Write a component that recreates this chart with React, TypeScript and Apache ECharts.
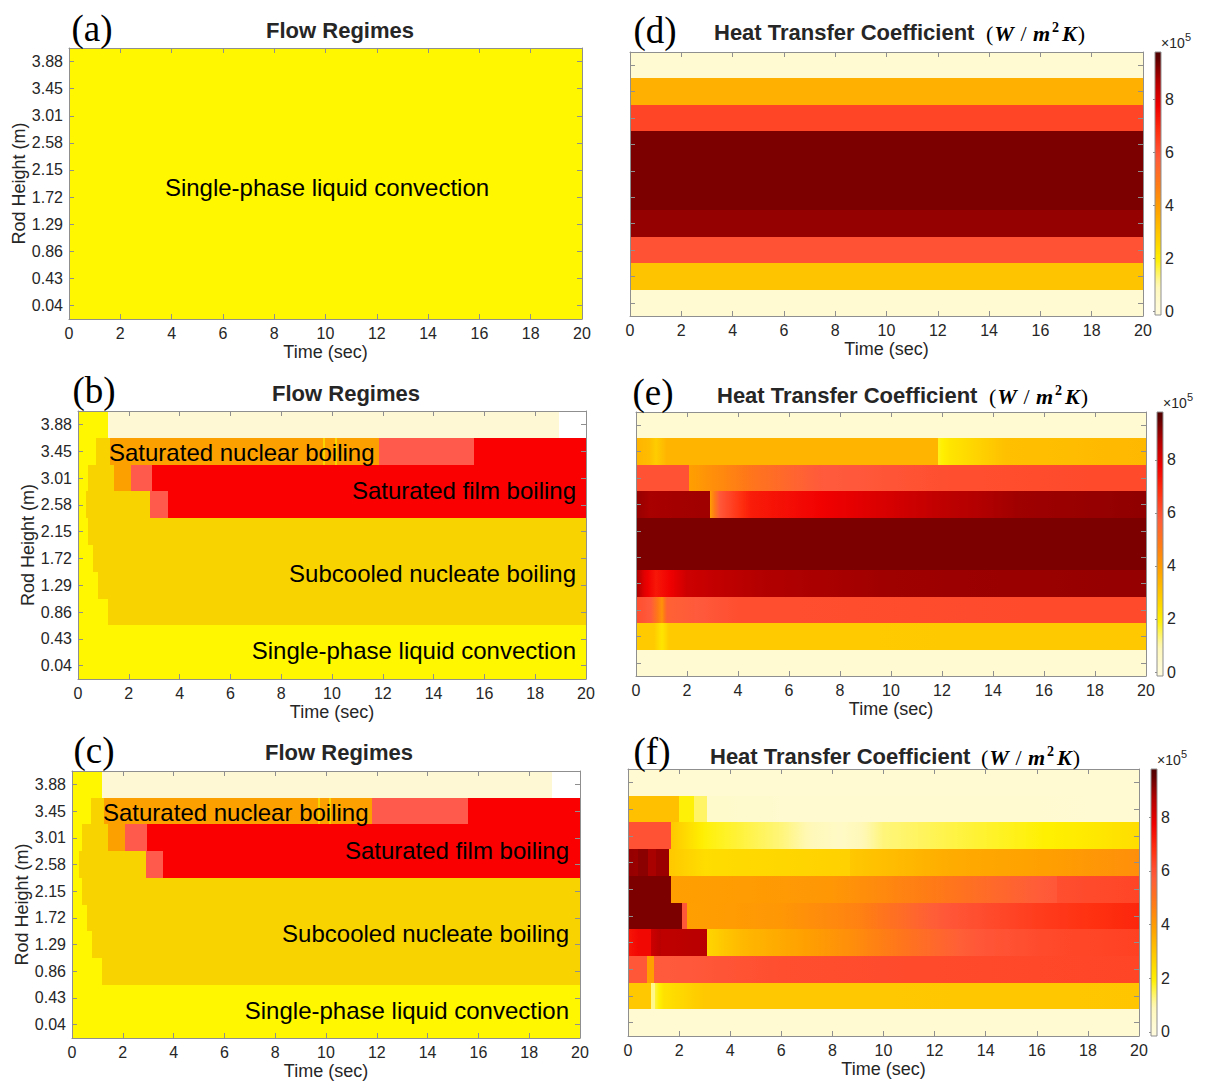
import React, { useEffect, useRef } from 'react';
import * as echarts from 'echarts';

// ---------------- DATA ----------------
const heightLabels = ['0.04', '0.43', '0.86', '1.29', '1.72', '2.15', '2.58', '3.01', '3.45', '3.88'];
const timeMin = 0;
const timeMax = 20;
const timeInterval = 2;

// Regime ids: 0 single-phase liquid, 1 subcooled nucleate, 2 saturated nucleate,
// 3 transition, 4 saturated film, 5 vapour/cream, 6 none
const regimeLabels = [
  'Single-phase liquid convection',
  'Subcooled nucleate boiling',
  'Saturated nuclear boiling',
  'Transition boiling',
  'Saturated film boiling',
];

// rows bottom (0.04) -> top (3.88); segments [tStart, tEnd, regimeId]
const regimesA = [
  [[0, 20, 0]], [[0, 20, 0]], [[0, 20, 0]], [[0, 20, 0]], [[0, 20, 0]],
  [[0, 20, 0]], [[0, 20, 0]], [[0, 20, 0]], [[0, 20, 0]], [[0, 20, 0]],
];
const regimesB = [
  [[0, 20, 0]],
  [[0, 20, 0]],
  [[0, 1.2, 0], [1.2, 20, 1]],
  [[0, 0.78, 0], [0.78, 20, 1]],
  [[0, 0.6, 0], [0.6, 20, 1]],
  [[0, 0.39, 0], [0.39, 20, 1]],
  [[0, 0.3, 0], [0.3, 2.84, 1], [2.84, 3.55, 3], [3.55, 20, 4]],
  [[0, 0.39, 0], [0.39, 1.4, 1], [1.4, 2.07, 2], [2.07, 2.92, 3], [2.92, 20, 4]],
  [[0, 0.71, 0], [0.71, 1.27, 1], [1.27, 9.66, 2], [9.66, 9.74, 1], [9.74, 10.13, 2], [10.13, 10.21, 1], [10.21, 11.84, 2], [11.84, 15.6, 3], [15.6, 20, 4]],
  [[0, 1.18, 0], [1.18, 18.95, 5], [18.95, 20, 6]],
];
const regimesC = [
  [[0, 20, 0]],
  [[0, 20, 0]],
  [[0, 1.19, 0], [1.19, 20, 1]],
  [[0, 0.78, 0], [0.78, 20, 1]],
  [[0, 0.59, 0], [0.59, 20, 1]],
  [[0, 0.38, 0], [0.38, 20, 1]],
  [[0, 0.28, 0], [0.28, 2.9, 1], [2.9, 3.6, 3], [3.6, 20, 4]],
  [[0, 0.38, 0], [0.38, 1.42, 1], [1.42, 2.08, 2], [2.08, 2.96, 3], [2.96, 20, 4]],
  [[0, 0.73, 0], [0.73, 1.26, 1], [1.26, 9.68, 2], [9.68, 9.76, 1], [9.76, 10.12, 2], [10.12, 10.2, 1], [10.2, 11.8, 2], [11.8, 15.6, 3], [15.6, 20, 4]],
  [[0, 1.19, 0], [1.19, 18.9, 5], [18.9, 20, 6]],
];

// HTC (x1e5 W/m2K); segments [tStart, tEnd, valueStart, valueEnd]
const htcD = [
  [[0, 20, 0.3, 0.3]],
  [[0, 20, 3.0, 3.0]],
  [[0, 20, 6.0, 6.0]],
  [[0, 20, 9.0, 9.0]],
  [[0, 20, 9.25, 9.25]],
  [[0, 20, 9.25, 9.25]],
  [[0, 20, 9.25, 9.25]],
  [[0, 20, 6.3, 6.3]],
  [[0, 20, 3.5, 3.5]],
  [[0, 20, 0.3, 0.3]],
];
const htcE = [
  [[0, 20, 0.3, 0.3]],
  [[0, 0.7, 2.85, 2.85], [0.7, 1.0, 2.85, 2.2], [1.0, 1.3, 2.2, 2.85], [1.3, 20, 2.85, 2.9]],
  [[0, 0.6, 6.1, 5.8], [0.6, 1.0, 5.8, 4.2], [1.0, 1.2, 4.2, 5.6], [1.2, 4, 5.6, 6.1], [4, 20, 6.1, 6.2]],
  [[0, 0.3, 8.9, 8.0], [0.3, 0.8, 8.0, 7.3], [0.8, 2, 7.3, 8.3], [2, 5, 8.3, 8.7], [5, 10, 8.7, 8.9], [10, 20, 8.9, 9.0]],
  [[0, 20, 9.25, 9.25]],
  [[0, 20, 9.25, 9.25]],
  [[0, 0.5, 9.0, 8.8], [0.5, 2.9, 8.8, 8.9], [2.9, 3.3, 3.9, 5.9], [3.3, 4.5, 5.9, 7.2], [4.5, 6.5, 7.2, 7.6], [6.5, 9, 7.6, 8.0], [9, 12, 8.0, 8.5], [12, 15, 8.5, 8.9], [15, 20, 8.9, 9.05]],
  [[0, 2.08, 6.0, 6.0], [2.08, 4.7, 3.9, 5.0], [4.7, 7.2, 5.0, 5.8], [7.2, 9.3, 5.8, 5.9], [9.3, 12.4, 5.9, 6.1], [12.4, 20, 6.1, 6.2]],
  [[0, 0.5, 3.4, 3.2], [0.5, 0.8, 3.2, 2.8], [0.8, 1.2, 2.8, 3.4], [1.2, 11.85, 3.4, 3.4], [11.85, 12.3, 1.8, 2.2], [12.3, 14.5, 2.2, 3.1], [14.5, 20, 3.1, 3.3]],
  [[0, 20, 0.3, 0.3]],
];
const htcF = [
  [[0, 20, 0.3, 0.3]],
  [[0, 0.9, 2.9, 2.9], [0.9, 1.05, 1.2, 1.2], [1.05, 1.4, 1.6, 2.3], [1.4, 3, 2.3, 2.9], [3, 20, 2.9, 2.95]],
  [[0, 0.75, 5.9, 5.9], [0.75, 1.0, 3.9, 3.9], [1.0, 3, 5.8, 5.9], [3, 6, 5.9, 6.1], [6, 20, 6.1, 6.3]],
  [[0, 0.4, 7.3, 7.6], [0.4, 0.9, 7.6, 7.6], [0.9, 1.3, 8.3, 8.6], [1.3, 3.1, 8.5, 8.6], [3.1, 4.5, 2.6, 3.3], [4.5, 7, 3.3, 3.9], [7, 8.7, 3.9, 4.3], [8.7, 13.7, 4.3, 5.9], [13.7, 16.4, 5.9, 6.2], [16.4, 20, 6.2, 6.4]],
  [[0, 2.1, 9.25, 9.25], [2.1, 2.3, 5.9, 5.9], [2.3, 6, 3.9, 4.1], [6, 9, 4.1, 4.6], [9, 12.5, 4.6, 5.9], [12.5, 16, 5.9, 6.5], [16, 20, 6.5, 7.0]],
  [[0, 1.7, 9.25, 9.25], [1.7, 8, 3.9, 4.1], [8, 12, 4.1, 4.8], [12, 16.8, 4.8, 5.9], [16.8, 20, 6.1, 6.3]],
  [[0, 0.4, 9.0, 8.95], [0.4, 0.8, 9.1, 9.1], [0.8, 1.1, 8.8, 8.8], [1.1, 1.62, 8.95, 8.95], [1.62, 3, 2.9, 2.4], [3, 8.7, 2.4, 2.7], [8.7, 12.6, 2.9, 3.6], [12.6, 16.4, 3.6, 3.9], [16.4, 20, 3.9, 4.3]],
  [[0, 1.7, 6.0, 6.0], [1.7, 3, 2.9, 1.9], [3, 6, 1.9, 1.3], [6, 8.3, 1.3, 0.6], [8.3, 10, 0.6, 1.3], [10, 14, 1.3, 1.7], [14, 18, 1.7, 2.1], [18, 20, 2.1, 2.4]],
  [[0, 2.0, 3.1, 3.1], [2.0, 2.6, 1.9, 1.9], [2.6, 3.1, 1.4, 1.4], [3.1, 6, 0.45, 0.35], [6, 20, 0.35, 0.3]],
  [[0, 20, 0.3, 0.3]],
];

const colorbarMin = -0.15;
const colorbarMax = 9.8;
const colorbarExponent = '5';

// ---------------- STYLE ----------------
const regimeColors = ['#FFF700', '#F9D300', '#FCA000', '#FF5A4B', '#FA0000', '#FEF8D4', '#FFFFFF'];
const cmapStops = ['#FFFBDC', '#FFF8B8', '#FFF000', '#FFC800', '#FFA000', '#FF7818', '#FF5A3C', '#FF3010', '#F00000', '#B00000', '#500000'];
const cmapMin = 0;
const cmapMax = 9.7;

const SANS = "'Liberation Sans', Arial, Helvetica, sans-serif";
const SERIF = "'Liberation Serif', 'Times New Roman', serif";
const AXIS_COLOR = '#8f8f8f';
const TEXT_COLOR = '#262626';

function hexToRgb(h: string) {
  const n = parseInt(h.slice(1), 16);
  return [(n >> 16) & 255, (n >> 8) & 255, n & 255];
}
function cmap(v: number) {
  const t = Math.min(1, Math.max(0, (v - cmapMin) / (cmapMax - cmapMin)));
  const pos = t * (cmapStops.length - 1);
  const i = Math.min(cmapStops.length - 2, Math.floor(pos));
  const f = pos - i;
  const a = hexToRgb(cmapStops[i]);
  const b = hexToRgb(cmapStops[i + 1]);
  const c = a.map((x, k) => Math.round(x + (b[k] - x) * f));
  return `rgb(${c[0]},${c[1]},${c[2]})`;
}
function gradientStops(v0: number, v1: number, n: number) {
  const out: any[] = [];
  for (let k = 0; k < n; k++) {
    const f = k / (n - 1);
    out.push({ offset: f, color: cmap(v0 + (v1 - v0) * f) });
  }
  return out;
}

const panels: any[] = [
  { kind: 'regime', data: regimesA, grid: { left: 69, top: 48, width: 513, height: 271 }, tag: '(a)', tagPos: [92, 28], titlePos: [340, 30],
    notes: [{ text: regimeLabels[0], x: 327, y: 187, align: 'center' }] },
  { kind: 'regime', data: regimesB, grid: { left: 78, top: 411, width: 508, height: 268 }, tag: '(b)', tagPos: [94, 390], titlePos: [346, 393],
    notes: [
      { text: regimeLabels[2], x: 109, y: 452, align: 'left' },
      { text: regimeLabels[4], x: 576, y: 490, align: 'right' },
      { text: regimeLabels[1], x: 576, y: 573, align: 'right' },
      { text: regimeLabels[0], x: 576, y: 650, align: 'right' },
    ] },
  { kind: 'regime', data: regimesC, grid: { left: 72, top: 771, width: 508, height: 267 }, tag: '(c)', tagPos: [94, 750], titlePos: [339, 752],
    notes: [
      { text: regimeLabels[2], x: 103, y: 812, align: 'left' },
      { text: regimeLabels[4], x: 569, y: 850, align: 'right' },
      { text: regimeLabels[1], x: 569, y: 933, align: 'right' },
      { text: regimeLabels[0], x: 569, y: 1010, align: 'right' },
    ] },
  { kind: 'htc', data: htcD, grid: { left: 630, top: 52, width: 513, height: 264 }, cbar: { left: 1155, top: 52, width: 6, height: 263 },
    tag: '(d)', tagPos: [655, 30], titlePos: [714, 32, 986], expPos: [1161, 43] },
  { kind: 'htc', data: htcE, grid: { left: 636, top: 412, width: 510, height: 264 }, cbar: { left: 1157, top: 412, width: 6, height: 264 },
    tag: '(e)', tagPos: [653, 392], titlePos: [717, 395, 989], expPos: [1163, 403] },
  { kind: 'htc', data: htcF, grid: { left: 628, top: 769, width: 511, height: 267 }, cbar: { left: 1151, top: 769, width: 6, height: 267 },
    tag: '(f)', tagPos: [652, 751], titlePos: [710, 756, 981], expPos: [1157, 760] },
];

function buildOption() {
  const grid: any[] = [];
  const xAxis: any[] = [];
  const yAxis: any[] = [];
  const series: any[] = [];
  const graphic: any[] = [];

  const lineStyle = { color: AXIS_COLOR, width: 1 };

  panels.forEach((p) => {
    grid.push({ ...p.grid, containLabel: false });
    const gi = grid.length - 1;
    const isRegime = p.kind === 'regime';
    const xBottom = xAxis.length;
    xAxis.push({
      type: 'value', gridIndex: gi, min: timeMin, max: timeMax, interval: timeInterval, position: 'bottom', z: 10,
      axisLine: { show: true, onZero: false, lineStyle },
      axisTick: { show: true, inside: true, length: 5, lineStyle },
      splitLine: { show: false },
      axisLabel: { fontSize: 16, color: TEXT_COLOR, margin: 6, fontFamily: SANS },
      name: 'Time (sec)', nameLocation: 'middle', nameGap: 24,
      nameTextStyle: { fontSize: 18, color: TEXT_COLOR, fontFamily: SANS },
    });
    xAxis.push({
      type: 'value', gridIndex: gi, min: timeMin, max: timeMax, interval: timeInterval, position: 'top', z: 10,
      axisLine: { show: true, onZero: false, lineStyle },
      axisTick: { show: true, inside: true, length: 5, lineStyle },
      splitLine: { show: false }, axisLabel: { show: false },
    });
    const yLeft = yAxis.length;
    yAxis.push({
      type: 'category', gridIndex: gi, data: heightLabels, position: 'left', boundaryGap: true, z: 10,
      axisLine: { show: true, onZero: false, lineStyle },
      axisTick: { show: true, inside: true, length: 5, alignWithLabel: true, interval: 0, lineStyle },
      splitLine: { show: false },
      axisLabel: { show: isRegime, interval: 0, fontSize: 16, color: TEXT_COLOR, margin: 6, fontFamily: SANS },
      name: isRegime ? 'Rod Height (m)' : '', nameLocation: 'middle', nameGap: 41,
      nameTextStyle: { fontSize: 18, color: TEXT_COLOR, fontFamily: SANS },
    });
    yAxis.push({
      type: 'category', gridIndex: gi, data: heightLabels, position: 'right', boundaryGap: true, z: 10,
      axisLine: { show: true, onZero: false, lineStyle },
      axisTick: { show: true, inside: true, length: 5, alignWithLabel: true, interval: 0, lineStyle },
      splitLine: { show: false }, axisLabel: { show: false },
    });

    const items: any[] = [];
    p.data.forEach((row: number[][], r: number) => {
      row.forEach((seg) => {
        if (isRegime) items.push([seg[0], seg[1], r, seg[2]]);
        else items.push([seg[0], seg[1], r, seg[2], seg[3]]);
      });
    });

    series.push({
      type: 'custom', xAxisIndex: xBottom, yAxisIndex: yLeft, clip: true, silent: true,
      encode: { x: [0, 1], y: 2 },
      data: items,
      z: 1,
      renderItem: (params: any, api: any) => {
        const t0 = api.value(0);
        const t1 = api.value(1);
        const row = api.value(2);
        const p0 = api.coord([t0, row]);
        const p1 = api.coord([t1, row]);
        const h = api.size([0, 1])[1];
        const x0 = Math.round(p0[0]);
        const x1 = Math.round(p1[0]);
        const y0 = Math.round(p0[1] - h / 2);
        const y1 = Math.round(p0[1] + h / 2);
        let fill: any;
        if (isRegime) {
          fill = regimeColors[api.value(3)];
        } else {
          const v0 = api.value(3);
          const v1 = api.value(4);
          fill = v0 === v1 ? cmap(v0) : new echarts.graphic.LinearGradient(0, 0, 1, 0, gradientStops(v0, v1, 8));
        }
        return { type: 'rect', shape: { x: x0, y: y0, width: Math.max(1, x1 - x0), height: y1 - y0 }, style: { fill } };
      },
    });

    // panel tag
    graphic.push({
      type: 'text', x: p.tagPos[0], y: p.tagPos[1], z: 100,
      style: { text: p.tag, fontSize: 37, fontFamily: SERIF, fill: '#000', align: 'center', verticalAlign: 'middle', textAlign: 'center', textVerticalAlign: 'middle' },
    });

    if (isRegime) {
      graphic.push({
        type: 'text', x: p.titlePos[0], y: p.titlePos[1], z: 100,
        style: { text: 'Flow Regimes', fontSize: 22, fontWeight: 'bold', fontFamily: SANS, fill: TEXT_COLOR, align: 'center', verticalAlign: 'middle', textAlign: 'center', textVerticalAlign: 'middle' },
      });
      p.notes.forEach((n: any) => {
        graphic.push({
          type: 'text', x: n.x, y: n.y, z: 100,
          style: { text: n.text, fontSize: 24, fontFamily: SANS, fill: '#000', align: n.align, verticalAlign: 'middle', textAlign: n.align, textVerticalAlign: 'middle' },
        });
      });
    } else {
      graphic.push({
        type: 'text', x: p.titlePos[0], y: p.titlePos[1], z: 100,
        style: { text: 'Heat Transfer Coefficient', fontSize: 22, fontWeight: 'bold', fontFamily: SANS, fill: TEXT_COLOR, align: 'left', verticalAlign: 'middle', textAlign: 'left', textVerticalAlign: 'middle' },
      });
      graphic.push({
        type: 'text', x: p.titlePos[2], y: p.titlePos[1], z: 100,
        style: {
          text: '{p|(}{i|W}{p| / }{i|m}{s|2}{i|K}{p|)}', align: 'left', verticalAlign: 'middle', textAlign: 'left', textVerticalAlign: 'middle',
          fill: '#000',
          rich: {
            p: { fontSize: 22, fontFamily: SERIF, fill: '#000', verticalAlign: 'bottom', lineHeight: 24 },
            i: { fontSize: 22, fontFamily: SERIF, fontStyle: 'italic', fontWeight: 'bold', fill: '#000', verticalAlign: 'bottom', lineHeight: 24, padding: [0, 1, 0, 1] },
            s: { fontSize: 14, fontFamily: SERIF, fontWeight: 'bold', fill: '#000', verticalAlign: 'top', lineHeight: 14, padding: [0, 2, 0, 1] },
          },
        },
      });
      graphic.push({
        type: 'text', x: p.expPos[0], y: p.expPos[1], z: 100,
        style: { text: '×10', fontSize: 14, fontFamily: SANS, fill: TEXT_COLOR, align: 'left', verticalAlign: 'middle', textAlign: 'left', textVerticalAlign: 'middle' },
      });
      graphic.push({
        type: 'text', x: p.expPos[0] + 24, y: p.expPos[1] - 6, z: 100,
        style: { text: colorbarExponent, fontSize: 11, fontFamily: SANS, fill: TEXT_COLOR, align: 'left', verticalAlign: 'middle', textAlign: 'left', textVerticalAlign: 'middle' },
      });

      // colorbar
      grid.push({ ...p.cbar, show: true, borderColor: AXIS_COLOR, borderWidth: 1, backgroundColor: 'transparent', z: 10 });
      const cg = grid.length - 1;
      const cx = xAxis.length;
      xAxis.push({ type: 'value', gridIndex: cg, min: 0, max: 1, show: false });
      const cy = yAxis.length;
      yAxis.push({
        type: 'value', gridIndex: cg, min: colorbarMin, max: colorbarMax, splitNumber: 5, position: 'right', z: 10,
        axisLine: { show: false },
        axisTick: { show: true, inside: true, length: 2, lineStyle },
        splitLine: { show: false },
        axisLabel: {
          fontSize: 16, color: TEXT_COLOR, margin: 4, fontFamily: SANS, showMinLabel: false, showMaxLabel: false,
          formatter: (v: number) => (Math.abs(v - Math.round(v)) < 1e-6 ? String(Math.round(v)) : ''),
        },
      });
      series.push({
        type: 'custom', xAxisIndex: cx, yAxisIndex: cy, silent: true, z: 1,
        encode: { x: [0, 1], y: [2, 3] },
        data: [[0, 1, colorbarMin, colorbarMax]],
        renderItem: (params: any, api: any) => {
          const a = api.coord([api.value(0), api.value(3)]);
          const b = api.coord([api.value(1), api.value(2)]);
          const stops: any[] = [];
          const n = 40;
          for (let k = 0; k < n; k++) {
            const f = k / (n - 1);
            stops.push({ offset: f, color: cmap(colorbarMax - (colorbarMax - colorbarMin) * f) });
          }
          return {
            type: 'rect',
            shape: { x: a[0], y: a[1], width: b[0] - a[0], height: b[1] - a[1] },
            style: { fill: new echarts.graphic.LinearGradient(0, 0, 0, 1, stops) },
          };
        },
      });
    }
  });

  return {
    animation: false,
    backgroundColor: '#ffffff',
    textStyle: { fontFamily: SANS },
    grid, xAxis, yAxis, series, graphic,
  };
}

export default function App() {
  const ref = useRef<HTMLDivElement>(null);
  useEffect(() => {
    const chart = echarts.init(ref.current as HTMLDivElement, null, { renderer: 'svg' });
    chart.setOption(buildOption() as any);
    return () => chart.dispose();
  }, []);
  return (
    <div
      ref={ref}
      style={{ position: 'absolute', left: 0, top: 0, width: 1212, height: 1084, background: '#fff' }}
    />
  );
}
